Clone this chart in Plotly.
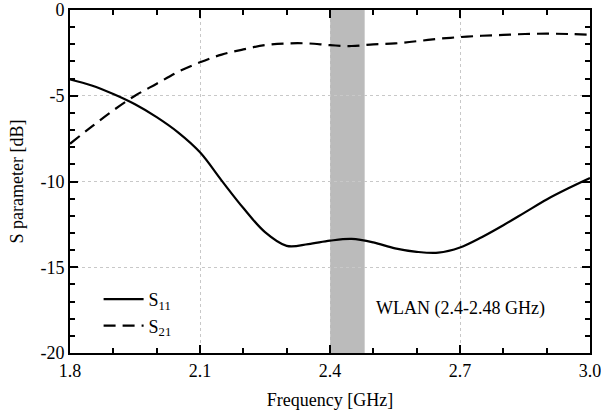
import plotly.graph_objects as go

freq = [1.8, 1.85, 1.9, 1.95, 2.0, 2.05, 2.1, 2.15, 2.2, 2.25, 2.3, 2.35, 2.4, 2.45,
        2.5, 2.55, 2.6, 2.65, 2.7, 2.75, 2.8, 2.85, 2.9, 2.95, 3.0]
s11 = [-4.05, -4.4, -4.9, -5.5, -6.25, -7.15, -8.3, -9.95, -11.55, -12.95, -13.75, -13.65,
       -13.45, -13.35, -13.55, -13.9, -14.1, -14.15, -13.85, -13.25, -12.55, -11.8, -11.05,
       -10.4, -9.8]
s21 = [-7.8, -6.8, -5.85, -5.0, -4.3, -3.6, -3.05, -2.6, -2.3, -2.05, -1.95, -1.95,
       -2.05, -2.1, -2.0, -1.95, -1.82, -1.68, -1.58, -1.5, -1.45, -1.4, -1.38, -1.4, -1.45]

band = [2.4, 2.48]
x_ticks = [1.8, 2.1, 2.4, 2.7, 3.0]
x_labels = ["1.8", "2.1", "2.4", "2.7", "3.0"]
y_ticks = [0, -5, -10, -15, -20]
y_labels = ["0", "-5", "-10", "-15", "-20"]
band_label = "WLAN (2.4-2.48 GHz)"
label_pos = [2.702, -17.4]

FONT = "Liberation Serif, Times New Roman, serif"
FS = 18

fig = go.Figure()
fig.add_trace(go.Scatter(x=freq, y=s11, mode="lines", name="S<sub>11</sub>",
                         line=dict(color="black", width=2.2, shape="spline")))
fig.add_trace(go.Scatter(x=freq, y=s21, mode="lines", name="S<sub>21</sub>",
                         line=dict(color="black", width=2.2, shape="spline", dash="12px,7px")))

fig.add_shape(type="rect", xref="x", yref="paper", x0=band[0], x1=band[1], y0=0, y1=1,
              fillcolor="#bbbbbb", line=dict(width=0), layer="between")

fig.add_annotation(x=label_pos[0], y=label_pos[1], text=band_label, showarrow=False,
                   font=dict(family=FONT, size=FS, color="black"))

axis_common = dict(
    showline=True, linecolor="black", linewidth=2, mirror="allticks",
    ticks="inside", ticklen=8, tickwidth=1.5, tickcolor="black",
    showgrid=True, gridcolor="#c8c8c8", griddash="dot", gridwidth=1,
    zeroline=False, automargin=False, ticklabeloverflow="allow",
    tickfont=dict(family=FONT, size=FS, color="black"),
)

fig.update_xaxes(range=[1.8, 3.0], tickvals=x_ticks, ticktext=x_labels,
                 minor=dict(dtick=0.1, tick0=1.8, ticks="inside", ticklen=5, tickwidth=1.5,
                            tickcolor="black", showgrid=False),
                 title=dict(text="Frequency [GHz]", font=dict(family=FONT, size=FS, color="black"),
                            standoff=14),
                 **axis_common)
fig.update_yaxes(range=[-20, 0], tickvals=y_ticks, ticktext=y_labels,
                 minor=dict(dtick=1, tick0=0, ticks="inside", ticklen=5, tickwidth=1.5,
                            tickcolor="black", showgrid=False),
                 title=dict(text="S parameter [dB]", font=dict(family=FONT, size=FS, color="black"),
                            standoff=12),
                 **axis_common)

fig.update_layout(
    width=601, height=415,
    margin=dict(l=70, r=11, t=10, b=62),
    paper_bgcolor="white", plot_bgcolor="white",
    font=dict(family=FONT, size=FS, color="black"),
    legend=dict(x=0.055, y=0.21, xanchor="left", yanchor="top", bgcolor="rgba(0,0,0,0)",
                font=dict(family=FONT, size=FS, color="black"), itemwidth=40,
                tracegroupgap=0),
    showlegend=True,
)

fig.write_html("out.html")
